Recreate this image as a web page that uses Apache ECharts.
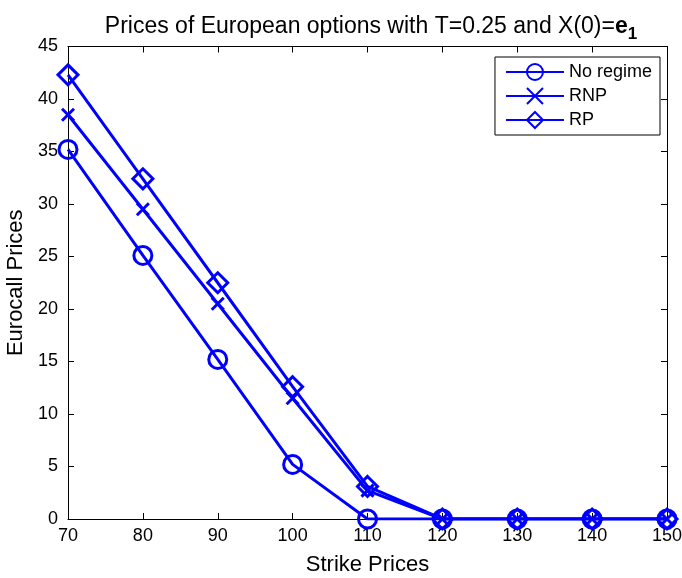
<!DOCTYPE html>
<html>
<head>
<meta charset="utf-8">
<script src="https://cdn.jsdelivr.net/npm/echarts@6/dist/echarts.min.js"></script>
<style>
html, body { margin: 0; padding: 0; background: #fff; }
#main { width: 682px; height: 578px; }
</style>
</head>
<body>
<div id="main"></div>
<script>
var strikes = [70, 80, 90, 100, 110, 120, 130, 140, 150];
var noRegime = [35.2, 25.1, 15.2, 5.2, 0, 0, 0, 0, 0];
var rnp = [38.5, 29.5, 20.5, 11.5, 2.7, 0, 0, 0, 0];
var rp = [42.3, 32.4, 22.5, 12.6, 3.1, 0, 0, 0, 0];

var blue = '#0000ff';
var font = 'Liberation Sans, Arial, sans-serif';

function pairs(vals) {
    return strikes.map(function (x, i) { return [x, vals[i]]; });
}

function makeSeries(name, vals, symbol, size) {
    return {
        name: name,
        type: 'line',
        data: pairs(vals),
        symbol: symbol,
        symbolSize: size,
        showAllSymbol: true,
        lineStyle: { color: blue, width: 3 },
        itemStyle: { color: 'rgba(0,0,0,0)', borderColor: blue, borderWidth: 3 },
        emphasis: { disabled: true },
        z: 3
    };
}

var chart = echarts.init(document.getElementById('main'));

var axisCommon = {
    axisLine: { show: true, onZero: false, lineStyle: { color: '#000', width: 1 } },
    axisTick: { show: true, inside: true, length: 6, lineStyle: { color: '#000' } },
    splitLine: { show: false }
};

chart.setOption({
    animation: false,
    backgroundColor: '#fff',
    title: {
        text: 'Prices of European options with T=0.25 and X(0)={e|e}{s|1}',
        left: 366,
        textAlign: 'center',
        top: 5,
        textStyle: {
            fontFamily: font, fontSize: 23, fontWeight: 'normal', color: '#000',
            rich: {
                e: { fontFamily: font, fontSize: 23, fontWeight: 'bold', color: '#000' },
                s: { fontFamily: font, fontSize: 17, fontWeight: 'bold', color: '#000', padding: [16, 0, 0, 0] }
            }
        }
    },
    grid: { left: 68, right: 15, top: 46.5, bottom: 59, containLabel: false, outerBoundsMode: 'none' },
    legend: {
        right: 22,
        top: 57,
        orient: 'vertical',
        backgroundColor: '#fff',
        borderColor: '#000',
        borderWidth: 1,
        borderRadius: 0,
        padding: [6, 8, 6, 10],
        itemGap: 6,
        itemWidth: 58,
        itemHeight: 20,
        textStyle: { fontFamily: font, fontSize: 18, color: '#000' },
        data: ['No regime', 'RNP', 'RP']
    },
    xAxis: [
        Object.assign({
            type: 'value', min: 70, max: 150, interval: 10,
            name: 'Strike Prices', nameLocation: 'middle', nameGap: 35,
            nameTextStyle: { fontFamily: font, fontSize: 22, color: '#000' },
            axisLabel: { fontFamily: font, fontSize: 18, color: '#000', margin: 8 }
        }, axisCommon),
        Object.assign({
            type: 'value', min: 70, max: 150, interval: 10, position: 'top',
            axisLabel: { show: false }
        }, axisCommon)
    ],
    yAxis: [
        Object.assign({
            type: 'value', min: 0, max: 45, interval: 5,
            name: 'Eurocall Prices', nameLocation: 'middle', nameGap: 38,
            nameTextStyle: { fontFamily: font, fontSize: 22, color: '#000' },
            axisLabel: { fontFamily: font, fontSize: 18, color: '#000', margin: 10 }
        }, axisCommon),
        Object.assign({
            type: 'value', min: 0, max: 45, interval: 5, position: 'right',
            axisLabel: { show: false }
        }, axisCommon)
    ],
    series: [
        makeSeries('No regime', noRegime, 'circle', 18),
        makeSeries('RNP', rnp, 'path://M0,0L10,10M10,0L0,10', 12),
        makeSeries('RP', rp, 'diamond', 20)
    ]
});
</script>
</body>
</html>
